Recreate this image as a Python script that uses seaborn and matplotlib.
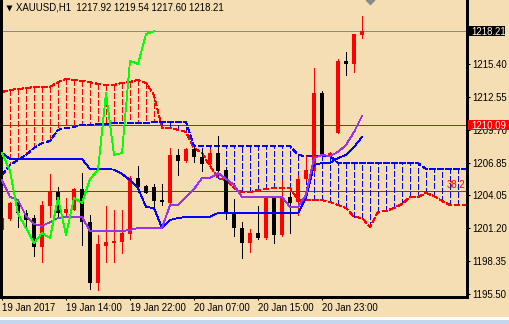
import numpy as np
import pandas as pd
import matplotlib
matplotlib.use("Agg")
import matplotlib.pyplot as plt
import matplotlib.transforms as mtransforms
from matplotlib.patches import Rectangle
from matplotlib.lines import Line2D
import seaborn as sns

# ---------------- data ----------------
title = "XAUUSD,H1  1217.92 1219.54 1217.60 1218.21"
x_labels = ["19 Jan 2017", "19 Jan 14:00", "19 Jan 22:00",
            "20 Jan 07:00", "20 Jan 15:00", "20 Jan 23:00"]
x_label_bars = [0, 8, 16, 24, 32, 40]
y_ticks = [1215.40, 1212.55, 1209.70, 1206.85, 1204.05, 1201.20, 1198.35, 1195.50]

opens = [1201.05, 1202.00, 1203.47, 1202.52, 1202.09, 1199.58, 1203.12, 1204.33, 1202.52, 1202.78,
         1204.59, 1201.74, 1196.48, 1199.67, 1199.93, 1200.02, 1200.71, 1205.54, 1204.85, 1204.77,
         1203.64, 1203.38, 1207.53, 1207.01, 1208.05, 1207.36, 1206.75, 1207.70, 1206.23, 1202.52,
         1201.23, 1199.93, 1200.79, 1200.36, 1203.82, 1200.62, 1203.90, 1203.47, 1205.46, 1206.15,
         1212.88, 1207.53, 1209.43, 1215.65, 1215.39, 1217.92]
highs = [1203.21, 1203.45, 1203.64, 1202.78, 1202.35, 1203.56, 1205.89, 1204.77, 1203.82, 1204.68,
         1205.97, 1202.35, 1200.62, 1203.12, 1202.78, 1202.78, 1205.71, 1206.58, 1204.94, 1205.03,
         1205.03, 1208.13, 1208.05, 1208.10, 1208.10, 1208.05, 1208.05, 1209.17, 1206.30, 1203.73,
         1201.74, 1201.14, 1203.12, 1203.85, 1203.85, 1205.37, 1204.33, 1205.80, 1207.44, 1215.04,
         1213.06, 1207.75, 1215.82, 1216.42, 1218.00, 1219.54]
lows = [1200.88, 1201.95, 1201.31, 1201.05, 1198.81, 1198.29, 1202.18, 1202.18, 1202.26, 1202.78,
        1199.76, 1195.96, 1195.87, 1198.29, 1198.29, 1199.07, 1200.28, 1204.33, 1204.25, 1202.95,
        1203.21, 1203.38, 1205.80, 1206.95, 1206.92, 1206.15, 1206.66, 1206.06, 1202.00, 1200.53,
        1198.63, 1199.15, 1200.28, 1200.30, 1199.93, 1200.53, 1200.79, 1202.35, 1205.37, 1206.10,
        1207.50, 1207.50, 1209.40, 1214.44, 1214.70, 1217.60]
closes = [1202.09, 1203.38, 1202.52, 1201.92, 1199.58, 1203.21, 1204.42, 1202.52, 1202.86, 1204.59,
          1201.74, 1196.48, 1199.84, 1200.02, 1200.10, 1200.79, 1205.54, 1204.77, 1204.25, 1203.56,
          1203.47, 1207.53, 1207.01, 1208.05, 1207.36, 1206.75, 1207.70, 1206.15, 1202.43, 1201.23,
          1199.93, 1200.79, 1200.36, 1203.82, 1200.62, 1203.82, 1203.38, 1205.46, 1206.23, 1212.88,
          1207.53, 1207.70, 1215.65, 1215.39, 1217.98, 1218.21]

tenkan = [1205.37, 1203.90, 1203.64, 1202.26, 1201.57, 1201.40, 1201.74, 1202.09, 1202.18, 1202.18,
          1202.18, 1200.97, 1200.97, 1200.97, 1200.97, 1200.97, 1201.05, 1201.23, 1201.23, 1201.23,
          1201.23, 1203.21, 1203.21, 1203.90, 1204.59, 1205.54, 1205.54, 1205.97, 1205.46, 1204.94,
          1203.90, 1203.90, 1203.90, 1203.90, 1203.90, 1203.90, 1203.04, 1203.04, 1204.08, 1207.27,
          1207.53, 1207.44, 1207.79, 1208.39, 1209.51, 1210.90]
kijun = [1207.70, 1207.18, 1207.18, 1207.18, 1207.18, 1207.18, 1207.18, 1207.18, 1207.18, 1207.18,
         1207.18, 1206.32, 1206.32, 1206.32, 1206.27, 1205.89, 1205.37, 1204.68, 1203.04, 1202.95,
         1201.23, 1201.92, 1202.09, 1202.18, 1202.18, 1202.18, 1202.18, 1202.52, 1202.52, 1202.52,
         1202.52, 1202.52, 1202.52, 1202.52, 1202.52, 1202.52, 1202.52, 1202.52, 1203.82, 1206.66,
         1206.84, 1206.84, 1207.27, 1207.53, 1208.22, 1209.08]
chikou = [1207.70, 1206.15, 1202.43, 1201.23, 1199.93, 1200.79, 1200.36, 1203.82, 1200.62, 1203.82,
          1203.38, 1205.46, 1206.23, 1212.88, 1207.53, 1207.70, 1215.65, 1215.39, 1217.98, 1218.21]
span_a = [1212.97, 1213.14, 1213.23, 1213.31, 1213.40, 1213.40, 1213.40, 1213.83, 1214.09, 1214.01,
          1213.92, 1213.83, 1213.66, 1213.57, 1213.57, 1213.75, 1213.83, 1214.01, 1213.75, 1212.71,
          1209.86, 1209.86, 1209.69, 1209.52, 1208.13, 1207.70, 1206.58, 1205.54, 1205.37, 1204.68,
          1204.33, 1204.33, 1204.51, 1204.59, 1204.68, 1204.68, 1204.68, 1203.64, 1203.64, 1203.64,
          1203.64, 1203.47, 1203.21, 1202.95, 1202.18, 1202.09, 1201.31, 1202.61, 1202.69, 1202.95,
          1203.30, 1203.90, 1203.90, 1204.25, 1203.99, 1203.56, 1203.21, 1203.21, 1203.21]
span_b = [1205.80, 1206.66, 1207.10, 1207.53, 1208.13, 1208.56, 1208.74, 1209.69, 1209.86, 1209.95,
          1210.12, 1210.12, 1210.20, 1210.20, 1210.29, 1210.29, 1210.29, 1210.29, 1210.29, 1210.38,
          1210.38, 1210.38, 1210.38, 1210.38, 1208.31, 1208.31, 1208.31, 1208.31, 1208.31, 1208.31,
          1208.31, 1208.31, 1208.31, 1208.31, 1208.31, 1208.31, 1208.31, 1207.53, 1207.44, 1207.44,
          1207.44, 1207.44, 1206.84, 1206.84, 1206.84, 1206.84, 1206.84, 1206.84, 1206.84, 1206.84,
          1206.84, 1206.84, 1206.84, 1206.32, 1206.32, 1206.32, 1206.32, 1206.32, 1206.32]

bid_price = 1218.21
level_main = 1210.09
level_fib = 1204.42
fib_label = "38.2"

# ---------------- style ----------------
BG = "#F5DEB3"
RED = "#FF0000"
BLUE = "#0000FF"
PURPLE = "#9A32E6"
LIME = "#00FF00"
GRAY = "#7F8A94"
FS = 6.9
LW = 0.62
DASH = (0, (3.6, 2.0))

sns.set_theme(style="ticks")
plt.rcParams["font.family"] = ["Liberation Sans", "DejaVu Sans"]
plt.rcParams["lines.scale_dashes"] = False
plt.rcParams["lines.antialiased"] = False
plt.rcParams["patch.antialiased"] = False

W, H = 509, 324
fig = plt.figure(figsize=(W / 100, H / 100), dpi=100, facecolor=BG)
ax = fig.add_axes([0.5 / W, 27 / H, 466 / W, 297 / H])
ax.set_facecolor(BG)

n = len(opens)
bars = np.arange(n)
df = pd.DataFrame({"bar": bars, "open": opens, "high": highs, "low": lows, "close": closes,
                   "tenkan": tenkan, "kijun": kijun})
cloud = pd.DataFrame({"bar": np.arange(len(span_a)), "a": span_a, "b": span_b})
lag = pd.DataFrame({"bar": np.arange(len(chikou)), "chikou": chikou})

# horizontal levels
ax.axhline(bid_price, color=GRAY, lw=LW, zorder=0.6)
ax.axhline(level_main, color=RED, lw=LW, zorder=0.6)
ax.axhline(level_fib, color=RED, lw=LW, zorder=0.6)

# cloud hatch
hcol = np.where(cloud["a"] >= cloud["b"], RED, BLUE)
ax.vlines(cloud["bar"], cloud["a"], cloud["b"], colors=hcol, linestyles=[DASH], lw=LW, zorder=1)
sns.lineplot(data=cloud, x="bar", y="a", ax=ax, color=RED, lw=LW, linestyle=DASH,
             estimator=None, sort=False, zorder=1.2)
sns.lineplot(data=cloud, x="bar", y="b", ax=ax, color=BLUE, lw=LW, linestyle=DASH,
             estimator=None, sort=False, zorder=1.2)

# candles
up = df["close"] >= df["open"]
ccol = np.where(up, RED, "black")
ax.vlines(df["bar"], df["low"], df["high"], colors=ccol, lw=LW, zorder=2)
body_lo = np.minimum(df["open"], df["close"])
body_h = np.maximum((df["close"] - df["open"]).abs(), 0.09)
for xb, yb, hb, cb in zip(df["bar"], body_lo, body_h, ccol):
    ax.add_patch(Rectangle((xb - 0.31, yb), 0.62, hb, fc=cb, ec="none", zorder=2.1))

# indicator lines
sns.lineplot(data=df, x="bar", y="kijun", ax=ax, color=BLUE, lw=LW, estimator=None, sort=False, zorder=3)
sns.lineplot(data=df, x="bar", y="tenkan", ax=ax, color=PURPLE, lw=LW, estimator=None, sort=False, zorder=3)
sns.lineplot(data=lag, x="bar", y="chikou", ax=ax, color=LIME, lw=LW, estimator=None, sort=False, zorder=3.2)

# axes limits (8 px per bar, first bar centred at x=2 px)
ax.set_xlim(-0.1875, 58.0625)
ax.set_ylim(1195.267, 1220.913)
ax.set_xlabel("")
ax.set_ylabel("")

for s in ["left", "right", "bottom"]:
    ax.spines[s].set_color("black")
    ax.spines[s].set_linewidth(0.75)
ax.spines["top"].set_visible(False)

ax.yaxis.tick_right()
ax.set_yticks(y_ticks)
ax.set_yticklabels([f"{v:.2f}" for v in y_ticks])
ax.tick_params(axis="y", direction="out", length=2.3, width=0.75, pad=2.0,
               labelsize=FS, colors="black", right=True, left=False)
ax.set_xticks(x_label_bars)
ax.set_xticklabels(x_labels, ha="left")
ax.tick_params(axis="x", direction="out", length=2.3, width=0.75, pad=2.0,
               labelsize=FS, colors="black", bottom=True)
for lab in ax.get_xticklabels() + ax.get_yticklabels():
    lab.set_color("black")

# price label boxes on the right scale
trans = mtransforms.blended_transform_factory(fig.transFigure, ax.transData)
box_h = 10 * (1220.913 - 1195.267) / 297
ax.add_patch(Rectangle((468 / W, bid_price - box_h / 2), 37 / W, box_h, transform=trans,
                       fc="black", ec="none", clip_on=False, zorder=10))
ax.text(471 / W, bid_price, f"{bid_price:.2f}", transform=trans, ha="left", va="center_baseline",
        fontsize=FS, color="#FFF4E0", zorder=11, clip_on=False)
ax.add_patch(Rectangle((467.5 / W, level_main - box_h / 2), 42 / W, box_h, transform=trans,
                       fc=RED, ec="none", clip_on=False, zorder=10))
ax.text(471 / W, level_main, f"{level_main:.2f}", transform=trans, ha="left", va="center_baseline",
        fontsize=FS, color="white", zorder=11, clip_on=False)

# fib label
ax.text(0.997, level_fib + 0.1, fib_label,
        transform=mtransforms.blended_transform_factory(ax.transAxes, ax.transData),
        ha="right", va="bottom", fontsize=FS, color=RED, zorder=5)

# chart shift marker
ax.plot([n], [1.0], transform=mtransforms.blended_transform_factory(ax.transData, ax.transAxes),
        marker="D", ms=5.5, color="#8A8A8A", mec="none", clip_on=False, zorder=6)

# title
fig.text(16 / W, 1 - 8 / H, title, ha="left", va="center", fontsize=FS, color="black")
fig.add_artist(Line2D([8.5 / W], [1 - 7.5 / H], marker="v", ms=4.2, color="black",
                      mec="none", transform=fig.transFigure))

# bottom tab strip
fig.add_artist(Rectangle((0, 0), 1, 6 / H, transform=fig.transFigure, fc="#C3D6EE", ec="none"))
fig.add_artist(Line2D([0, 1], [6.5 / H, 6.5 / H], color="white", lw=0.75, transform=fig.transFigure))

fig.savefig("out.png", dpi=100, facecolor=BG)
